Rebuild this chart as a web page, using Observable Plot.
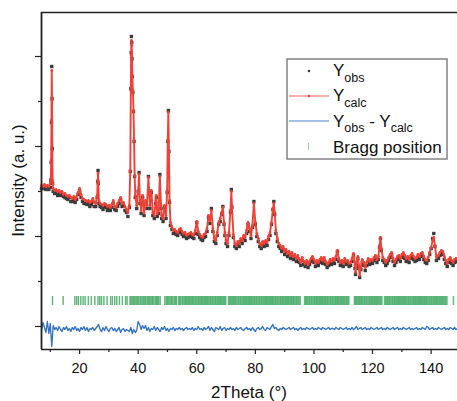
<!DOCTYPE html>
<html><head><meta charset="utf-8">
<script src="https://cdn.jsdelivr.net/npm/d3@7"></script>
<script src="https://cdn.jsdelivr.net/npm/@observablehq/plot@0.6"></script>
<style>
html,body{margin:0;padding:0;background:#fff;}
#chart svg{display:block;}
</style></head><body><div id="chart"></div>
<script>
// 2Theta positions (degrees) of the observed / calculated profile
const twoTheta = [
7.0,7.5,8.0,8.5,9.0,9.5,10.0,10.2,10.3,10.4,
10.5,10.6,10.7,10.8,11.0,11.5,12.0,12.5,13.0,13.5,
14.0,14.5,15.0,15.5,16.0,16.5,17.0,17.5,18.0,18.5,
19.0,19.5,20.0,20.5,21.0,21.5,22.0,22.5,23.0,23.5,
24.0,24.5,25.0,25.5,26.0,26.2,26.3,26.4,26.6,27.0,
27.5,28.0,28.5,29.0,29.5,30.0,30.5,31.0,31.5,32.0,
32.5,33.0,33.5,34.0,34.5,35.0,35.5,36.0,36.5,37.0,
37.3,37.5,37.6,37.7,37.8,37.9,38.0,38.2,38.4,38.6,
38.8,39.0,39.5,40.0,40.3,40.6,41.0,41.5,42.0,42.5,
43.0,43.5,44.0,44.5,45.0,45.5,46.0,46.2,46.5,47.0,
47.4,47.8,48.0,48.5,49.0,49.5,49.9,50.1,50.3,50.5,
50.7,51.0,51.5,52.0,52.5,53.0,53.5,54.0,54.5,55.0,
55.5,56.0,56.5,57.0,57.5,58.0,58.5,59.0,59.5,60.0,
60.5,61.0,61.5,62.0,62.5,63.0,63.5,64.0,64.5,65.0,
65.5,66.0,66.5,67.0,67.5,68.0,68.5,68.9,69.3,69.6,
70.0,70.5,71.0,71.5,71.8,72.0,72.5,73.0,73.5,74.0,
74.5,75.0,75.5,76.0,76.5,77.0,77.5,78.0,78.5,79.0,
79.5,80.0,80.5,81.0,81.5,82.0,82.5,83.0,83.5,84.0,
84.5,85.0,85.5,86.0,86.3,86.6,87.0,87.5,88.0,88.5,
89.0,89.5,90.0,90.5,91.0,91.5,92.0,92.5,93.0,93.5,
94.0,94.5,95.0,95.5,96.0,96.5,97.0,97.5,98.0,98.5,
99.0,99.5,100.0,100.5,101.0,101.5,102.0,102.5,103.0,103.5,
104.0,104.5,105.0,105.5,106.0,106.5,107.0,107.5,108.0,108.5,
109.0,109.5,110.0,110.5,111.0,111.5,112.0,112.5,113.0,113.5,
114.0,114.2,114.5,115.0,115.3,115.6,116.0,116.5,117.0,117.5,
118.0,118.5,119.0,119.5,120.0,120.5,121.0,121.5,122.0,122.4,
122.7,123.0,123.5,124.0,124.5,125.0,125.5,126.0,126.5,127.0,
127.5,128.0,128.5,129.0,129.5,130.0,130.5,131.0,131.5,132.0,
132.5,133.0,133.5,134.0,134.5,135.0,135.5,136.0,136.5,137.0,
137.5,138.0,138.5,139.0,139.5,140.0,140.5,140.9,141.3,141.8,
142.5,143.0,143.5,144.0,144.5,145.0,145.5,146.0,146.5,147.0,
147.5,148.0,148.5,149.0
];

// calculated intensity (a. u.)
const yCalc = [
2820,2800,2840,2800,2820,2800,2860,2960,3320,4120,
5120,4520,3520,2920,2760,2720,2740,2700,2720,2680,
2700,2640,2660,2620,2600,2620,2580,2560,2600,2540,
2600,2680,2760,2640,2560,2540,2520,2500,2520,2480,
2500,2560,2480,2460,2620,2920,3060,2880,2520,2460,
2440,2420,2460,2440,2400,2420,2380,2440,2520,2400,
2380,2460,2520,2580,2460,2480,2400,2340,2280,2420,
3120,4720,5420,5720,5620,5320,5020,4720,4320,3720,
3020,2620,2420,2720,3040,2520,2320,2620,2280,2520,
2420,2980,2420,2720,2280,2220,2520,2620,2260,2320,
3000,2420,2220,2160,2420,2220,2720,3720,4280,3520,
2520,2080,2000,1920,1940,1900,1880,1940,1960,1900,
1860,1880,1820,1840,1860,1880,1840,1820,1920,2100,
1900,1840,1800,1780,1840,1860,1960,2220,2120,2320,
1960,1760,1720,1880,2080,2160,2280,2380,2080,1880,
1720,1660,1880,2320,2700,2420,1840,1660,1620,1700,
1660,1760,1720,1820,1780,1920,2080,1960,1820,2020,
2460,2080,1860,1760,1660,1620,1700,1660,1720,1680,
1800,1880,2080,2360,2460,2280,1920,1760,1660,1620,
1560,1600,1500,1540,1460,1500,1420,1480,1400,1440,
1360,1420,1340,1280,1380,1300,1260,1320,1240,1300,
1360,1400,1340,1260,1320,1280,1340,1380,1320,1380,
1300,1240,1280,1340,1300,1360,1320,1400,1520,1360,
1280,1320,1260,1360,1300,1320,1260,1280,1360,1460,
1220,1080,1280,1400,1220,1020,1200,1340,1280,1180,
1280,1360,1300,1340,1320,1380,1420,1340,1400,1620,
1780,1560,1380,1340,1280,1320,1380,1440,1480,1360,
1280,1340,1400,1420,1360,1440,1480,1420,1360,1400,
1340,1420,1460,1400,1360,1380,1440,1400,1460,1480,
1400,1340,1320,1380,1480,1580,1720,1780,1620,1380,
1420,1480,1520,1500,1400,1320,1260,1340,1380,1320,
1280,1340,1360,1360
];

// observed intensity (a. u.)
const yObs = [
2760,2760,2760,2740,2800,2740,2780,2920,3280,4080,
5200,4560,3560,2860,2700,2660,2680,2620,2660,2620,
2640,2600,2580,2560,2540,2580,2500,2500,2540,2480,
2540,2640,2720,2580,2500,2460,2460,2440,2460,2400,
2440,2500,2400,2400,2580,2900,3120,2860,2460,2400,
2380,2340,2400,2380,2320,2360,2320,2380,2460,2340,
2320,2400,2460,2540,2400,2420,2320,2280,2200,2380,
3100,4760,5480,5800,5680,5360,5000,4680,4300,3700,
3000,2580,2360,2700,3080,2460,2260,2580,2220,2460,
2360,3000,2360,2680,2220,2160,2460,2580,2200,2260,
3040,2360,2160,2100,2380,2160,2680,3700,4320,3500,
2480,2020,1940,1860,1880,1840,1820,1880,1900,1840,
1800,1820,1760,1780,1800,1820,1780,1760,1860,2080,
1840,1780,1740,1720,1780,1800,1900,2180,2060,2360,
1900,1700,1660,1820,2040,2100,2240,2400,2040,1820,
1660,1600,1820,2280,2740,2380,1780,1600,1560,1640,
1600,1700,1660,1760,1720,1860,2040,1900,1760,1980,
2500,2040,1800,1700,1600,1560,1640,1600,1660,1620,
1740,1820,2040,2340,2500,2240,1860,1700,1600,1560,
1500,1540,1440,1480,1400,1440,1360,1420,1340,1380,
1300,1360,1280,1220,1320,1240,1200,1260,1180,1240,
1300,1340,1280,1200,1260,1220,1280,1320,1260,1320,
1240,1180,1220,1280,1240,1300,1260,1340,1500,1300,
1220,1260,1200,1300,1240,1260,1200,1220,1300,1420,
1160,1040,1220,1360,1160,980,1140,1280,1220,1120,
1220,1300,1240,1280,1260,1320,1360,1280,1340,1580,
1760,1520,1320,1280,1220,1260,1320,1380,1440,1300,
1220,1280,1340,1360,1300,1380,1420,1360,1300,1340,
1280,1360,1400,1340,1300,1320,1380,1340,1400,1420,
1340,1280,1260,1320,1440,1560,1760,1860,1600,1320,
1360,1420,1460,1440,1340,1260,1200,1280,1320,1260,
1220,1280,1300,1300
];

// difference curve Yobs - Ycalc (plotted offset), one value every 0.5 deg from 7 to 149
const yDiff = [
-80,80,-20,-120,100,-140,60,-400,20,-60,
-20,-80,0,-60,-100,-20,-60,0,-80,-40,
-100,-20,-60,0,-80,-40,-100,-20,-60,0,
-80,-20,-100,-40,-60,-20,-80,-40,0,40,
-60,-100,-20,-80,0,-60,-100,-40,-20,-80,
-40,-100,-60,-20,-120,-60,-40,-100,-60,-80,
-100,-20,-140,-60,-120,-80,100,40,-60,20,
-40,20,-80,-20,-100,-40,-60,0,-80,-20,
-60,-100,-20,-60,0,-80,-40,-100,-40,-60,
-20,-80,-40,-60,-20,-60,-40,-80,-40,-20,
-60,-40,-60,-20,-80,-40,-60,0,-60,-40,
-80,-20,-60,-40,0,-80,-20,-60,-100,-20,
-40,-60,0,-80,-40,-20,-80,-40,-60,-20,
-60,-40,-80,-20,-60,-40,-20,-60,-80,-40,
-20,-60,-40,-80,-20,-60,-100,-40,-20,-60,
-40,0,-60,-80,-20,-40,-60,0,40,-40,
-20,-60,-80,-40,-60,-20,-40,-60,-40,-20,
-60,-40,-20,-60,-40,-80,-40,-20,-60,-40,
-60,-20,-40,-60,-40,-20,-60,-40,-60,-20,
-40,-60,-20,-40,-60,-40,-20,-60,-40,-40,
-60,-20,-40,-60,-20,-40,-60,-40,-20,-60,
-40,-60,-20,-60,-40,0,-60,-40,-20,-60,
-40,-20,-60,-40,-60,-20,-40,-60,-40,-20,
-60,-40,-20,-60,-40,-60,-20,-40,-60,-40,
-20,-60,-40,-20,-60,-40,-60,-20,-40,-60,
-40,-20,-60,-40,-60,-40,-20,-60,-40,-60,
-20,-40,-60,0,-20,-60,-40,-20,-60,-40,
-60,-20,-40,-60,-40,-20,-60,-40,-60,-20,
-40,-60,-20,-60,-40
];
const diffTheta = d3.range(7, 149.001, 0.5);

// Bragg reflection positions (2Theta)
const braggPositions = [
10.75,14.4,18.4,19.0,19.6,20.4,21.2,21.9,23.0,24.0,25.2,26.3,26.9,27.5,28.3,29.4,30.6,31.2,32.0,32.7,33.6,34.6,35.7,36.2,
37.2,37.5,37.9,38.3,38.6,39.0,39.5,39.8,40.2,40.7,41.0,41.5,41.9,42.3,42.6,43.1,43.5,43.8,44.3,44.7,45.0,45.4,45.9,46.3,46.6,47.0,47.5,
49.1,49.6,50.0,50.3,50.8,51.2,51.5,51.9,52.4,52.8,53.1,
53.8,54.2,54.5,55.0,55.3,55.7,56.1,56.4,56.8,57.2,57.5,57.9,58.3,58.6,59.0,59.4,59.7,60.1,60.5,60.8,61.2,61.6,61.9,62.3,62.7,63.0,63.4,63.7,64.1,64.5,64.8,65.2,65.5,65.9,66.3,66.6,67.0,67.4,67.7,68.1,68.4,68.8,69.2,69.5,69.9,
70.8,71.2,71.5,71.9,72.3,72.6,73.0,73.3,73.7,74.1,74.4,74.8,75.1,75.5,75.9,76.2,76.6,76.9,77.3,77.7,78.0,78.4,78.7,79.1,79.5,79.8,80.2,80.5,80.9,81.3,81.6,82.0,82.3,82.7,83.1,83.4,83.8,84.1,84.5,84.9,85.2,85.6,85.9,86.3,86.7,87.0,87.4,87.7,88.1,88.5,88.8,89.2,89.5,89.9,90.3,90.6,91.0,91.3,91.7,92.1,92.4,92.8,93.1,93.5,93.9,94.2,94.6,94.9,95.3,
96.8,97.2,97.5,97.9,98.3,98.6,99.0,99.3,99.7,100.1,100.4,100.8,101.1,101.5,101.9,102.2,102.6,102.9,103.3,103.7,104.0,104.4,104.7,105.1,105.5,105.8,106.2,106.5,106.9,107.3,107.6,108.0,108.3,108.7,109.1,109.4,109.8,110.1,110.5,110.9,111.2,111.6,111.9,
113.8,114.2,114.5,114.9,115.3,115.6,116.0,116.3,116.7,117.1,117.4,117.8,118.1,118.5,118.9,119.2,119.6,119.9,120.3,120.7,121.0,121.4,121.7,122.1,122.5,122.8,123.2,
124.1,124.5,124.9,125.2,125.6,125.9,126.3,126.7,127.0,127.4,127.7,128.1,128.5,128.8,129.2,129.5,129.9,130.3,130.6,131.0,131.3,131.7,132.1,132.4,132.8,133.1,133.5,133.9,134.2,134.6,134.9,135.3,135.7,136.0,136.4,136.7,137.1,137.5,137.8,138.2,138.5,138.9,139.3,139.6,140.0,140.3,140.7,141.1,141.4,141.8,142.1,142.5,142.9,143.2,143.6,143.9,144.3,144.7,145.0,145.4,
147.6
];

const xMajorTicks = [20, 40, 60, 80, 100, 120, 140];
const xMinorTicks = [10, 30, 50, 70, 90, 110, 130];
const yMajorTicks = [0, 1800, 3600, 5400];
const yMinorTicks = [900, 2700, 4500];
const xLabel = "2Theta (°)";
const yLabel = "Intensity (a. u.)";

const n = Math.min(twoTheta.length, yCalc.length, yObs.length);
const obsData = d3.range(n).map(i => ({t: twoTheta[i], v: yObs[i]}));
const calcData = d3.range(n).map(i => ({t: twoTheta[i], v: yCalc[i]}));
const diffData = yDiff.map((v, i) => ({t: diffTheta[i], v})).filter(d => d.t != null);

const FONT = "'Liberation Sans', Arial, Helvetica, sans-serif";
const RED = "#ef4136", BLUE = "#2f6fc4", GREEN = "#3fa862", DARK = "#3b3b3b", AXIS = "#222";

const plot = Plot.plot({
  width: 457, height: 401,
  marginLeft: 41, marginRight: 0, marginTop: 12, marginBottom: 52,
  style: {fontFamily: FONT, fontSize: "14.5px", color: "#111", background: "#fff"},
  x: {domain: [7, 149], label: null},
  y: {domain: [-460, 6280], label: null},
  marks: [
    Plot.ruleX(braggPositions, {x: d => d, y1: 420, y2: 600, stroke: GREEN, strokeWidth: 1.5, strokeOpacity: 0.8}),
    Plot.line(diffData, {x: "t", y: "v", stroke: BLUE, strokeWidth: 1.3}),
    Plot.dot(obsData, {x: "t", y: "v", symbol: "square", r: 1.9, fill: DARK, stroke: null}),
    Plot.line(calcData, {x: "t", y: "v", stroke: RED, strokeWidth: 1.9}),
    Plot.dot(calcData, {x: "t", y: "v", r: 1.4, fill: RED, stroke: null}),
    Plot.axisX({ticks: xMajorTicks, tickSize: 5, tickPadding: 8, label: null, stroke: AXIS, strokeWidth: 1.2}),
    Plot.axisX({ticks: xMinorTicks, tickSize: 3, tickFormat: () => "", label: null, stroke: AXIS, strokeWidth: 1.2}),
    Plot.axisY({ticks: yMajorTicks, tickSize: 6, tickFormat: () => "", label: null, stroke: AXIS, strokeWidth: 1.2}),
    Plot.axisY({ticks: yMinorTicks, tickSize: 3, tickFormat: () => "", label: null, stroke: AXIS, strokeWidth: 1.2}),
    Plot.ruleX([7], {stroke: AXIS, strokeWidth: 1.8}),
    Plot.ruleY([-460, 6280], {stroke: AXIS, strokeWidth: 1.6})
  ]
});

const svg = d3.select(plot);
// axis titles
svg.append("text").attr("x", 249).attr("y", 397.5).attr("text-anchor", "middle")
  .attr("font-family", FONT).attr("font-size", 17).attr("fill", "#111").text(xLabel);
svg.append("text").attr("transform", "translate(23.5,180.5) rotate(-90)").attr("text-anchor", "middle")
  .attr("font-family", FONT).attr("font-size", 17).attr("fill", "#111").text(yLabel);

// legend
const lg = svg.append("g").attr("font-family", FONT).attr("fill", "#111").attr("text-anchor", "start");
lg.append("rect").attr("x", 287).attr("y", 59).attr("width", 160).attr("height", 100)
  .attr("fill", "#fff").attr("stroke", "#7a7a7a").attr("stroke-width", 1.4);
// row 1: Yobs
lg.append("rect").attr("x", 307.9).attr("y", 69.9).attr("width", 2.2).attr("height", 2.2).attr("fill", DARK);
function yText(g, x, y, parts) {
  const t = g.append("text").attr("x", x).attr("y", y).attr("font-size", 17).attr("text-anchor", "start");
  let sub = false;
  for (const p of parts) {
    if (p.sub) {
      t.append("tspan").attr("font-size", 12.5).attr("dy", 5.5).text(p.s);
      sub = true;
    } else {
      t.append("tspan").attr("dy", sub ? -5.5 : 0).text(p.s);
      sub = false;
    }
  }
}
yText(lg, 333, 76, [{s: "Y"}, {s: "obs", sub: true}]);
// row 2: Ycalc
lg.append("line").attr("x1", 289).attr("x2", 329).attr("y1", 96).attr("y2", 96).attr("stroke", RED).attr("stroke-width", 1.2).attr("stroke-opacity", 0.8);
lg.append("circle").attr("cx", 309).attr("cy", 96).attr("r", 1.3).attr("fill", RED);
yText(lg, 333, 101, [{s: "Y"}, {s: "calc", sub: true}]);
// row 3: Yobs - Ycalc
lg.append("line").attr("x1", 289).attr("x2", 329).attr("y1", 121).attr("y2", 121).attr("stroke", BLUE).attr("stroke-width", 1.1).attr("stroke-opacity", 0.85);
yText(lg, 333, 126.5, [{s: "Y"}, {s: "obs", sub: true}, {s: " - Y"}, {s: "calc", sub: true}]);
// row 4: Bragg position
lg.append("line").attr("x1", 308.5).attr("x2", 308.5).attr("y1", 143).attr("y2", 150).attr("stroke", GREEN).attr("stroke-width", 1).attr("stroke-opacity", 0.55);
lg.append("text").attr("x", 333).attr("y", 153).attr("font-size", 17).attr("text-anchor", "start").text("Bragg position");

document.getElementById("chart").appendChild(plot);
</script>
</body></html>
